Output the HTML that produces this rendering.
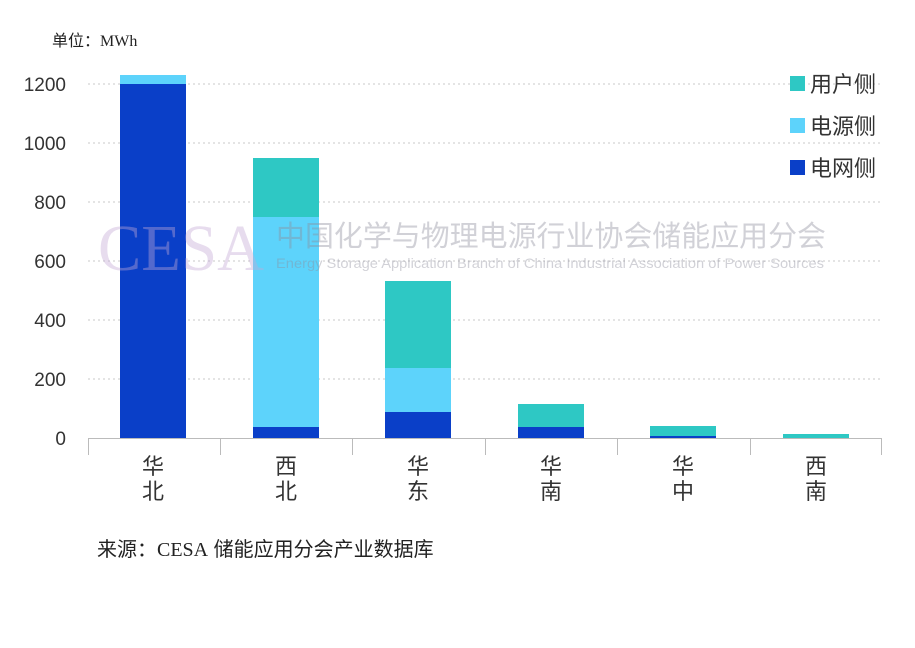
<!DOCTYPE html>
<html><head><meta charset="utf-8"><style>
body{margin:0;background:#fff;}
svg text{font-family:"Liberation Sans","Noto Sans CJK SC",sans-serif;}
</style></head><body>
<svg width="915" height="643" xmlns="http://www.w3.org/2000/svg">
<rect width="915" height="643" fill="#fff"/>
<text x="52" y="46" font-size="16" fill="#222">单位：<tspan font-family="Liberation Serif">MWh</tspan></text>
<g stroke="#c8c8c8" stroke-dasharray="2,3" stroke-width="1">
<line x1="88" x2="882" y1="84" y2="84"/><line x1="88" x2="882" y1="143" y2="143"/>
<line x1="88" x2="882" y1="202" y2="202"/><line x1="88" x2="882" y1="261" y2="261"/>
<line x1="88" x2="882" y1="320" y2="320"/><line x1="88" x2="882" y1="379" y2="379"/>
</g>
<g font-size="19" fill="#333" text-anchor="end">
<text x="66" y="91">1200</text><text x="66" y="150">1000</text><text x="66" y="209">800</text>
<text x="66" y="268">600</text><text x="66" y="327">400</text><text x="66" y="386">200</text><text x="66" y="445">0</text>
</g>
<rect x="120" y="75" width="66" height="9" fill="#5dd3fb"/>
<rect x="120" y="84" width="66" height="354" fill="#0a3fc8"/>
<rect x="253" y="158" width="66" height="59" fill="#2ec8c4"/>
<rect x="253" y="217" width="66" height="210" fill="#5dd3fb"/>
<rect x="253" y="427" width="66" height="11" fill="#0a3fc8"/>
<rect x="385" y="281" width="66" height="87" fill="#2ec8c4"/>
<rect x="385" y="368" width="66" height="44" fill="#5dd3fb"/>
<rect x="385" y="412" width="66" height="26" fill="#0a3fc8"/>
<rect x="518" y="404" width="66" height="23" fill="#2ec8c4"/>
<rect x="518" y="427" width="66" height="11" fill="#0a3fc8"/>
<rect x="650" y="426" width="66" height="10" fill="#2ec8c4"/>
<rect x="650" y="436" width="66" height="2" fill="#0a3fc8"/>
<rect x="783" y="434" width="66" height="4" fill="#2ec8c4"/>
<g opacity="0.4">
<text x="98" y="270" font-size="66" fill="#c4a9d6" textLength="166" lengthAdjust="spacingAndGlyphs" style="font-family:'Liberation Serif',serif">CESA</text>
<text x="276" y="246" font-size="29" fill="#8e8e9c" textLength="550" lengthAdjust="spacingAndGlyphs">中国化学与物理电源行业协会储能应用分会</text>
<text x="276" y="268" font-size="14" fill="#8e8e9c" textLength="548" lengthAdjust="spacingAndGlyphs">Energy Storage Application Branch of China Industrial Association of Power Sources</text>
</g>
<g stroke="#bbb" stroke-width="1">
<line x1="88" x2="882" y1="438.5" y2="438.5"/>
<line x1="88.5" x2="88.5" y1="438" y2="455"/><line x1="220.5" x2="220.5" y1="438" y2="455"/>
<line x1="352.5" x2="352.5" y1="438" y2="455"/><line x1="485.5" x2="485.5" y1="438" y2="455"/>
<line x1="617.5" x2="617.5" y1="438" y2="455"/><line x1="750.5" x2="750.5" y1="438" y2="455"/>
<line x1="881.5" x2="881.5" y1="438" y2="455"/>
</g>
<g font-size="22" fill="#333" text-anchor="middle">
<text x="153" y="474">华</text><text x="153" y="499">北</text>
<text x="286" y="474">西</text><text x="286" y="499">北</text>
<text x="418" y="474">华</text><text x="418" y="499">东</text>
<text x="551" y="474">华</text><text x="551" y="499">南</text>
<text x="683" y="474">华</text><text x="683" y="499">中</text>
<text x="816" y="474">西</text><text x="816" y="499">南</text>
</g>
<rect x="790" y="76" width="15" height="15" fill="#2ec8c4"/>
<rect x="790" y="118" width="15" height="15" fill="#5dd3fb"/>
<rect x="790" y="160" width="15" height="15" fill="#0a3fc8"/>
<g font-size="22" fill="#333">
<text x="810" y="92">用户侧</text><text x="810" y="134">电源侧</text><text x="810" y="176">电网侧</text>
</g>
<text x="97" y="556" font-size="20" fill="#222">来源：<tspan font-family="Liberation Serif">CESA</tspan> 储能应用分会产业数据库</text>
</svg>
</body></html>
